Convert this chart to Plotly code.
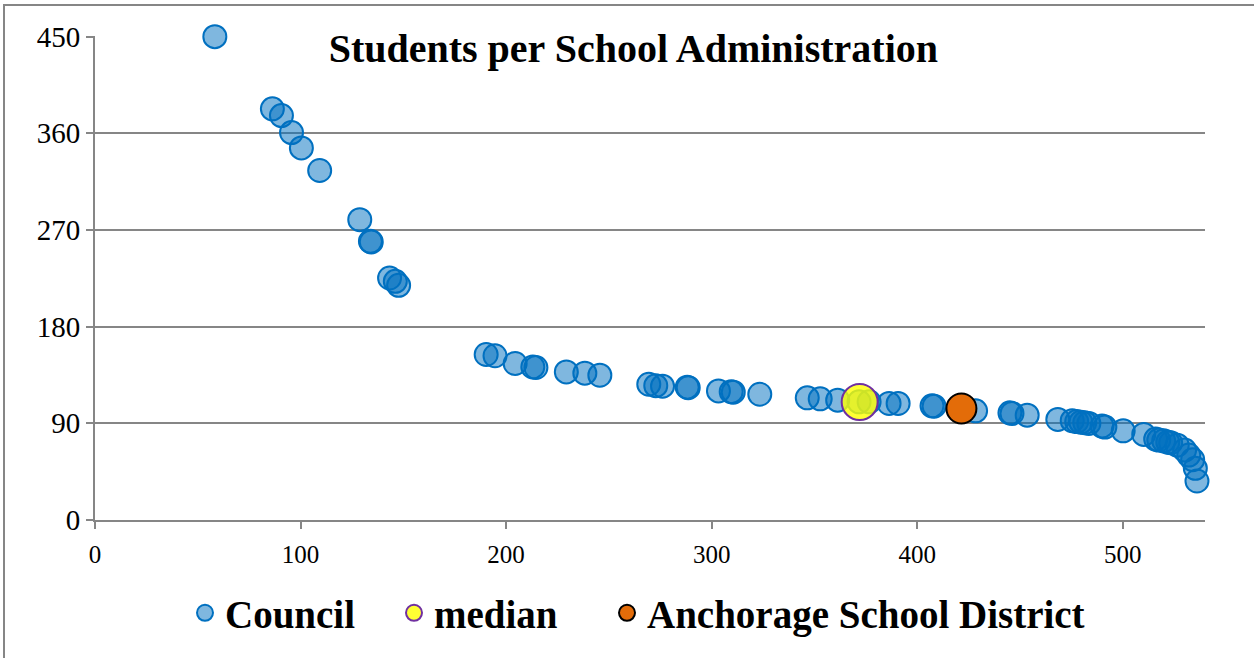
import plotly.graph_objects as go

# Council districts (x, students per administrator)
council_x = [58.3, 86.3, 90.7, 95.6, 100.4, 109.3, 128.8, 134.0, 134.4, 143.3, 146.1, 147.7,
             190.3, 194.6, 204.4, 213.0, 214.5, 229.3, 238.3, 245.6, 269.4, 272.8, 276.1,
             288.1, 288.6, 303.3, 309.5, 310.5, 323.4, 346.5, 352.8, 361.3, 371.7, 376.6,
             386.3, 390.7, 407.2, 408.2, 428.4, 445.1, 446.1, 453.5, 468.4, 475.4, 477.6,
             479.6, 481.5, 483.5, 489.9, 491.3, 500.2, 510.2, 516.0, 517.5, 519.9, 521.9,
             523.3, 526.5, 530.1, 532.1, 534.0, 535.3, 536.1]
council_y = [450.0, 382.8, 376.5, 360.7, 346.4, 325.4, 279.6, 259.4, 258.9, 225.3, 222.2, 218.5,
             154.1, 152.9, 145.7, 142.5, 142.0, 137.9, 136.7, 134.8, 126.4, 125.1, 124.6,
             123.7, 123.2, 120.2, 119.5, 119.0, 117.1, 113.7, 112.8, 111.6, 110.0, 110.0,
             108.5, 108.5, 106.3, 106.0, 101.6, 99.8, 99.2, 97.6, 93.6, 92.5, 91.6,
             91.1, 90.6, 89.9, 87.4, 86.5, 83.0, 79.7, 75.3, 74.4, 73.7, 72.5,
             71.9, 69.7, 65.1, 60.4, 56.2, 48.1, 36.3]
median_x = [372.0]
median_y = [109.8]
anchorage_x = [421.5]
anchorage_y = [103.8]

x_ticks = [0, 100, 200, 300, 400, 500]
y_ticks = [0, 90, 180, 270, 360, 450]

SERIF = "Liberation Serif"

fig = go.Figure()
fig.add_trace(go.Scatter(
    x=council_x, y=council_y, mode="markers", name="Council", legend="legend",
    showlegend=True,
    marker=dict(size=23, color="rgba(0,112,192,0.5)",
                line=dict(color="#0070C0", width=2)),
    cliponaxis=False))
fig.add_trace(go.Scatter(
    x=median_x, y=median_y, mode="markers", name="median", legend="legend2",
    showlegend=True,
    marker=dict(size=36, color="rgba(255,255,0,0.8)",
                line=dict(color="#7030A0", width=2)),
    cliponaxis=False))
fig.add_trace(go.Scatter(
    x=anchorage_x, y=anchorage_y, mode="markers", name="Anchorage School District",
    legend="legend3", showlegend=True,
    marker=dict(size=30, color="#E36C09",
                line=dict(color="#000000", width=2)),
    cliponaxis=False))

legend_common = dict(orientation="h", xanchor="left", y=-0.192, yanchor="middle",
                     font=dict(family=SERIF, size=39, color="black", weight="bold"),
                     itemsizing="trace", bgcolor="rgba(0,0,0,0)")

fig.update_layout(
    width=1254, height=658,
    showlegend=True,
    margin=dict(l=95, r=49, t=36, b=138),
    paper_bgcolor="white", plot_bgcolor="white",
    font=dict(family=SERIF, color="black"),
    title=dict(text="Students per School Administration",
               font=dict(family=SERIF, size=40, color="black", weight="bold"),
               x=0.485, xref="paper", xanchor="center",
               y=1 - 48 / 658, yref="container", yanchor="middle"),
    legend=dict(x=(185 - 95) / 1110, **legend_common),
    legend2=dict(x=(394 - 95) / 1110, **legend_common),
    legend3=dict(x=(607 - 95) / 1110, **legend_common),
    xaxis=dict(range=[0, 540], tickvals=x_ticks, ticks="outside", ticklen=7,
               tickcolor="#868686", tickwidth=2, showgrid=False, zeroline=False,
               showline=True, linecolor="#868686", linewidth=2,
               tickfont=dict(family=SERIF, size=25, color="black"), ticklabelstandoff=4),
    yaxis=dict(range=[0, 450.6], tickvals=y_ticks, ticks="outside", ticklen=7,
               tickcolor="#868686", tickwidth=2, showgrid=True, gridcolor="#868686",
               gridwidth=2, zeroline=False, showline=True, linecolor="#868686",
               linewidth=2, tickfont=dict(family=SERIF, size=29, color="black")),
    shapes=[dict(type="rect", xref="paper", yref="paper",
                 x0=(4 - 95) / 1110, x1=1.3, y0=-0.6, y1=(520 - 5) / 484,
                 line=dict(color="#868686", width=2), fillcolor="rgba(0,0,0,0)",
                 layer="below")],
)

fig.write_html("out.html", config={"displayModeBar": False},
               post_script="document.body.style.margin='0';")
